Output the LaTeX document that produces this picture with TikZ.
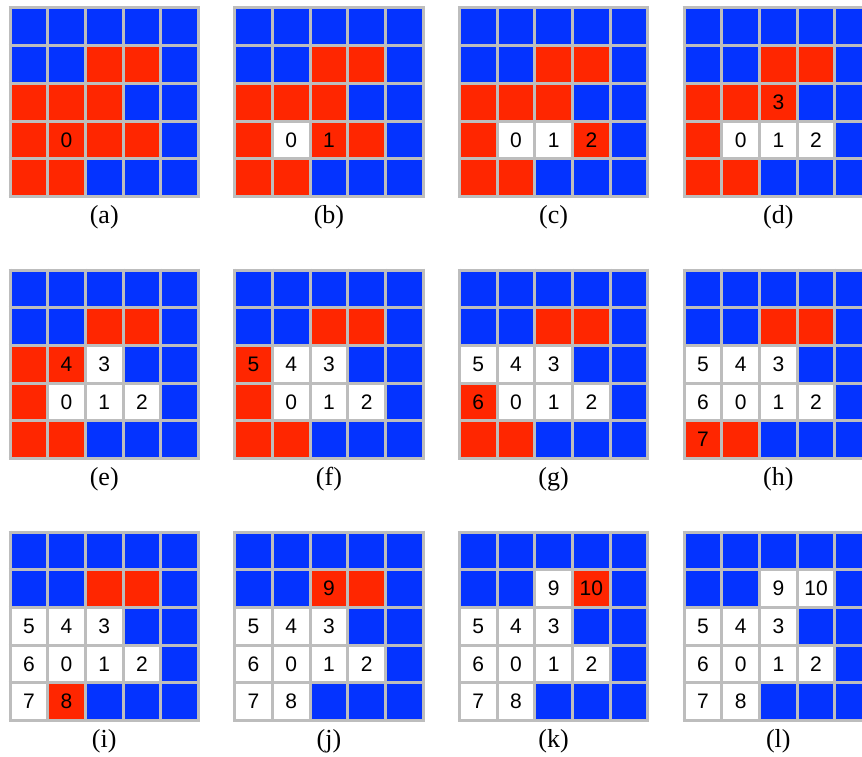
\documentclass[tikz,border=0pt]{standalone}
\usepackage{fontspec}
\setmainfont{Liberation Serif}
\newfontfamily\cellfont{Liberation Sans}
\definecolor{cellblue}{HTML}{0433FF}
\definecolor{cellred}{HTML}{FF2600}
\definecolor{gridgray}{HTML}{BDBDBD}

\begin{document}
\begin{tikzpicture}[x=1pt,y=-1pt,
  cellnum/.style={font=\cellfont\fontsize{21}{21}\selectfont,inner sep=0pt},
  caption/.style={font=\fontsize{26}{26}\selectfont,inner sep=0pt},
  gridline/.style={gridgray,line width=3pt}]
  \useasboundingbox (0,0) rectangle (862,757);
  \clip (0,0) rectangle (862,757);
  \def\cs{37.7}
  % one panel per step of the walk
  \foreach \lab [count=\pn from 0] in {a,b,c,d,e,f,g,h,i,j,k,l}{
    \pgfmathsetmacro{\xo}{10+224.7*mod(\pn,4)}
    \pgfmathsetmacro{\yo}{8+262*int(\pn/4)}
    \fill[cellblue] (\xo,\yo) rectangle ++(5*\cs,5*\cs);
    \foreach \idx/\rr/\cc in {0/3/1,1/3/2,2/3/3,3/2/2,4/2/1,5/2/0,6/3/0,7/4/0,8/4/1,9/1/2,10/1/3}{
      \ifnum\idx<\pn
        \fill[white] (\xo+\cc*\cs,\yo+\rr*\cs) rectangle ++(\cs,\cs);
        \node[cellnum] (n\pn-\idx) at (\xo+\cc*\cs+0.5*\cs,\yo+\rr*\cs+0.5*\cs) {\idx};
      \else
        \fill[cellred] (\xo+\cc*\cs,\yo+\rr*\cs) rectangle ++(\cs,\cs);
        \ifnum\idx=\pn
          \node[cellnum] (n\pn-\idx) at (\xo+\cc*\cs+0.5*\cs,\yo+\rr*\cs+0.5*\cs) {\idx};
        \fi
      \fi
    }
    \foreach \j in {0,...,5}{
      \draw[gridline] (\xo+\j*\cs,\yo-1.5) -- ++(0,5*\cs+3);
      \draw[gridline] (\xo-1.5,\yo+\j*\cs) -- ++(5*\cs+3,0);
    }
    \node[caption] (cap-\lab) at (\xo+2.5*\cs,\yo+5*\cs+21) {(\lab)};
  }
\end{tikzpicture}
\end{document}
